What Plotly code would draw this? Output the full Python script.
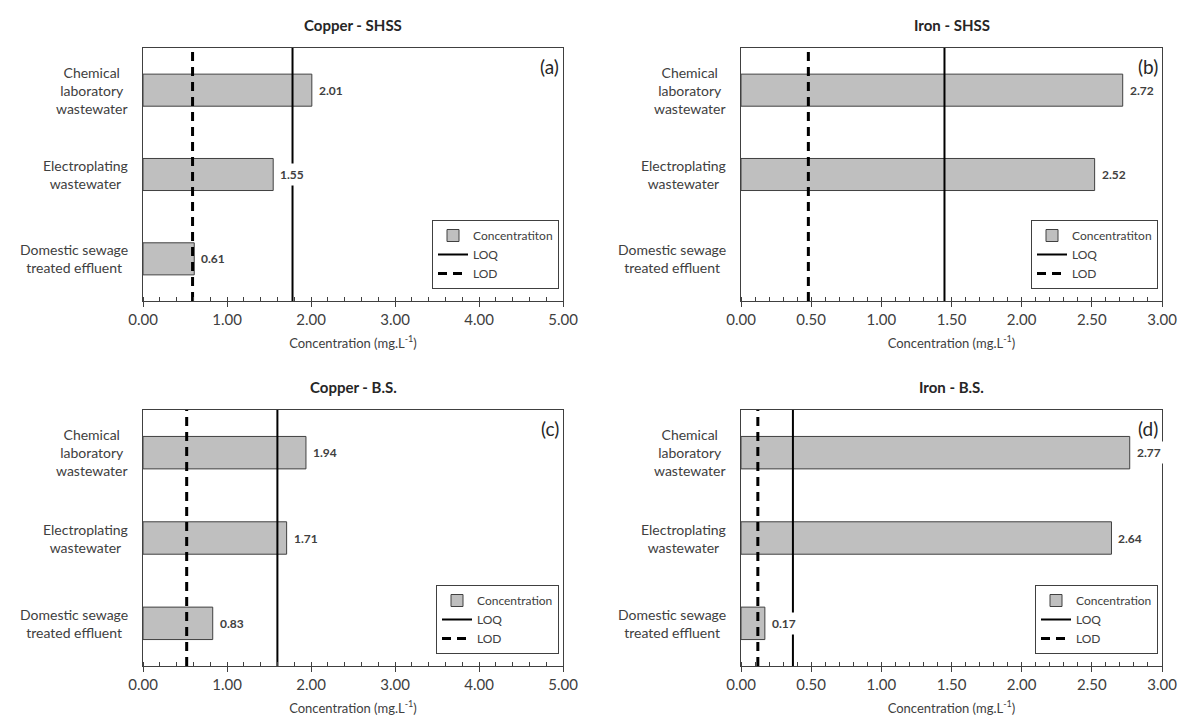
import plotly.graph_objects as go

# Sample sources (top to bottom on the category axis)
categories = [
    "Chemical<br>laboratory<br>wastewater",
    "Electroplating<br>wastewater",
    "Domestic sewage<br>treated effluent",
]

# Measured concentrations (mg/L); None = not detected / not shown
copper_shss = [2.01, 1.55, 0.61]
iron_shss = [2.72, 2.52, None]
copper_bs = [1.94, 1.71, 0.83]
iron_bs = [2.77, 2.64, 0.17]

# Limits of quantification / detection per method
copper_shss_loq, copper_shss_lod = 1.78, 0.59
iron_shss_loq, iron_shss_lod = 1.45, 0.48
copper_bs_loq, copper_bs_lod = 1.60, 0.52
iron_bs_loq, iron_bs_lod = 0.37, 0.12

panel_titles = ["Copper - SHSS", "Iron - SHSS", "Copper - B.S.", "Iron - B.S."]
panel_tags = ["(a)", "(b)", "(c)", "(d)"]
bar_names = ["Concentratiton", "Concentratiton", "Concentration", "Concentration"]
x_max = [5.0, 3.0, 5.0, 3.0]
x_major = [1.0, 0.5, 1.0, 0.5]
x_minor = [0.2, 0.1, 0.2, 0.1]

FONT = "Lato, Carlito, Calibri, sans-serif"
W, H = 1178, 722

panels = [
    (copper_shss, copper_shss_loq, copper_shss_lod),
    (iron_shss, iron_shss_loq, iron_shss_lod),
    (copper_bs, copper_bs_loq, copper_bs_lod),
    (iron_bs, iron_bs_loq, iron_bs_lod),
]

# Plot-area placement in pixels (left, right, top, bottom)
col_px = [(143, 563), (741, 1162)]
row_px = [(48, 301), (410, 666)]

def xdom(c):
    return [col_px[c][0] / W, col_px[c][1] / W]

def ydom(r):
    return [1 - row_px[r][1] / H, 1 - row_px[r][0] / H]

Y_RANGE = [-0.5, len(categories) - 0.5]
y_pos = [len(categories) - 1 - i for i in range(len(categories))]

fig = go.Figure()
layout = dict(
    width=W, height=H, autosize=False,
    margin=dict(l=0, r=0, t=0, b=0, pad=0, autoexpand=False),
    paper_bgcolor="white", plot_bgcolor="white",
    font=dict(family=FONT, color="#404040"),
    bargap=0.62,
    showlegend=True,
)
annotations = []

for k, (values, loq, lod) in enumerate(panels):
    r, c = divmod(k, 2)
    n = k + 1
    xa = "x" if n == 1 else f"x{n}"
    ya = "y" if n == 1 else f"y{n}"
    xkey = "xaxis" if n == 1 else f"xaxis{n}"
    ykey = "yaxis" if n == 1 else f"yaxis{n}"
    leg = "legend" if n == 1 else f"legend{n}"

    fig.add_trace(go.Bar(
        x=values, y=y_pos, orientation="h", name=bar_names[k],
        marker=dict(color="#BFBFBF", line=dict(color="#404040", width=1)),
        xaxis=xa, yaxis=ya, legend=leg, hoverinfo="x",
    ))
    fig.add_trace(go.Scatter(
        x=[loq, loq], y=Y_RANGE, mode="lines", name="LOQ",
        line=dict(color="black", width=2), xaxis=xa, yaxis=ya, legend=leg,
    ))
    fig.add_trace(go.Scatter(
        x=[lod, lod], y=Y_RANGE, mode="lines", name="LOD",
        line=dict(color="black", width=3, dash="9px,6px"),
        xaxis=xa, yaxis=ya, legend=leg,
    ))

    layout[xkey] = dict(
        domain=xdom(c), anchor=ya, range=[0, x_max[k]], automargin=False,
        dtick=x_major[k], tick0=0, tickformat=".2f",
        ticks="outside", ticklen=5, tickcolor="#404040", tickwidth=1,
        minor=dict(ticks="inside", ticklen=4, dtick=x_minor[k],
                   tickcolor="#404040", tickwidth=1, showgrid=False),
        showline=True, linecolor="#404040", linewidth=1, mirror=True,
        showgrid=False, zeroline=False,
        tickfont=dict(size=15, color="#404040", family=FONT),
        title=dict(text="Concentration (mg.L<sup>-1</sup>)",
                   font=dict(size=13, color="#404040", family=FONT), standoff=11),
    )
    layout[ykey] = dict(
        domain=ydom(r), anchor=xa, range=Y_RANGE, automargin=False,
        showticklabels=False, ticks="", showgrid=False, zeroline=False,
        showline=True, linecolor="#404040", linewidth=1, mirror=True,
    )
    # Inward half of the major ticks, drawn by an overlaid tick-only axis
    ov = 4 + n
    layout[f"xaxis{ov}"] = dict(
        overlaying=xa, anchor=ya, side="bottom", range=[0, x_max[k]],
        automargin=False,
        dtick=x_major[k], tick0=0, ticks="inside", ticklen=5,
        tickcolor="#404040", tickwidth=1, showticklabels=False,
        showline=False, showgrid=False, zeroline=False,
    )

    # Legend box in the lower-right corner of each panel
    layout[leg] = dict(
        x=(col_px[c][1] - 4) / W, y=1 - (row_px[r][1] - 12) / H,
        xanchor="right", yanchor="bottom",
        bgcolor="white", bordercolor="#404040", borderwidth=1,
        font=dict(size=12, color="#404040", family=FONT),
        tracegroupgap=0, itemwidth=30,
    )

    # Panel title
    annotations.append(dict(
        text=f"<b>{panel_titles[k]}</b>", xref="paper", yref="paper",
        x=sum(xdom(c)) / 2, y=1 - (row_px[r][0] - 23) / H,
        xanchor="center", yanchor="middle", showarrow=False,
        font=dict(size=15, color="#262626", family=FONT),
    ))
    # Panel tag
    annotations.append(dict(
        text=panel_tags[k], xref=f"{xa} domain", yref=f"{ya} domain",
        x=1, y=1, xanchor="right", yanchor="top", xshift=-2, yshift=-5,
        showarrow=False, font=dict(size=19, color="#262626", family=FONT),
    ))
    # Category labels, centred per line
    for label, yp in zip(categories, y_pos):
        annotations.append(dict(
            text=label, xref=f"{xa} domain", yref=ya, x=0, y=yp,
            xanchor="right", yanchor="middle", align="center",
            xshift=-13, showarrow=False,
            font=dict(size=14, color="#404040", family=FONT),
        ))
    # Value labels at the bar ends
    for v, yp in zip(values, y_pos):
        if v is None:
            continue
        annotations.append(dict(
            text=f"<b>{v:.2f}</b>", xref=xa, yref=ya, x=v, y=yp,
            xanchor="left", yanchor="middle", xshift=3, showarrow=False,
            bgcolor="white", borderpad=3,
            font=dict(size=12, color="#404040", family=FONT),
        ))

layout["annotations"] = annotations
fig.update_layout(**layout)
fig.write_html("out.html")
